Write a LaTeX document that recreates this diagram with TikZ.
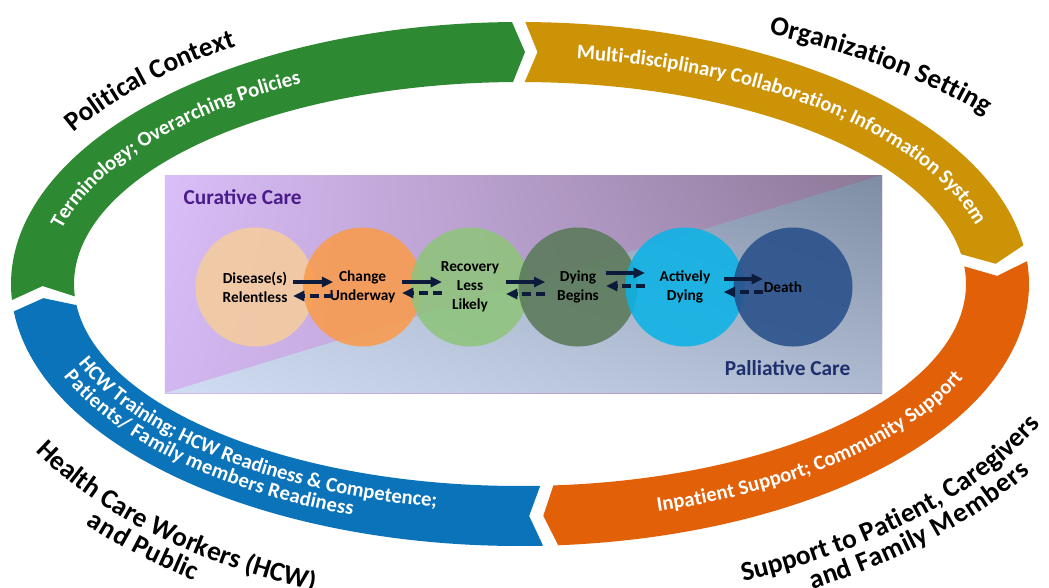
\documentclass[tikz,border=0pt]{standalone}
\usepackage{fontspec}
\setmainfont{Carlito}
\usetikzlibrary{arrows.meta,calc,decorations.text,shadings}

\definecolor{ringgreen}{HTML}{2E8A32}
\definecolor{ringgold}{HTML}{CC9306}
\definecolor{ringorange}{HTML}{E26008}
\definecolor{ringblue}{HTML}{0B73B9}
\definecolor{peach}{HTML}{F5CC9E}
\definecolor{changeorange}{HTML}{F99B4C}
\definecolor{lightgreen}{HTML}{8FC47C}
\definecolor{dullgreen}{HTML}{5B7A5A}
\definecolor{brightcyan}{HTML}{0CB3E6}
\definecolor{deathblue}{HTML}{28508A}
\definecolor{arrowblue}{HTML}{0C1A3C}
\definecolor{curpurple}{HTML}{4B1D8C}
\definecolor{palnavy}{HTML}{1E2F6E}
\definecolor{lavUL}{RGB}{218,190,248}
\definecolor{lavLL}{RGB}{210,182,240}
\definecolor{lavUR}{RGB}{140,120,150}
\definecolor{lavLR}{RGB}{160,140,176}
\definecolor{palUL}{RGB}{184,198,220}
\definecolor{palLL}{RGB}{207,220,241}
\definecolor{palUR}{RGB}{126,140,164}
\definecolor{palLR}{RGB}{174,187,208}

\newcommand\titlefont{\fontsize{20.5}{24}\selectfont\bfseries}
\newcommand\bandfont{\fontsize{15.5}{19}\selectfont\bfseries\color{white}}
\newcommand\stagefont{\fontsize{11.5}{14.2}\selectfont\bfseries}
\newcommand\boxfont{\fontsize{16}{19}\selectfont\bfseries}

% one chevron of the ring: colour, tail, notch, head, tip (angles)
\newcommand\ringpart[5]{%
  \fill[#1] (#2:509 and 262) arc[start angle=#2, end angle=#4, x radius=509, y radius=262]
    -- (#5:477.5 and 232) -- (#4:446 and 202)
    arc[start angle=#4, end angle=#2, x radius=446, y radius=202]
    -- (#3:477.5 and 232) -- cycle;}

\tikzset{
  stage/.style={circle, minimum size=89.25pt, inner sep=0pt, fill opacity=.88,
    text opacity=1, align=center, font=\stagefont},
  fwd/.style={-{Triangle[length=8.5pt,width=7.5pt]}, line width=2.5pt, draw=arrowblue},
  bwd/.style={fwd, dash pattern=on 7pt off 3.5pt},
  bandtext/.style={decorate, decoration={text along path, text align=center, raise=-4pt, text={|\bandfont|#1}}},
  titletext/.style={decorate, decoration={text along path, text align=center, text={|\titlefont|#1}}}
}

\begin{document}
\begin{tikzpicture}[x=0.75pt,y=0.75pt]
  \useasboundingbox (-520,-303) rectangle (529,284);
  \fill[white] (-520,-303) rectangle (529,284);

  % centre panel
  \shade[upper left=lavUL, lower left=lavLL, upper right=lavUR, lower right=lavLR]
    (-355,-109) rectangle (362,109);
  \shade[upper left=palUL, lower left=palLL, upper right=palUR, lower right=palLR]
    (-355,-109) -- (362,-109) -- (362,109) -- cycle;
  \node[anchor=base west, font=\boxfont, text=curpurple] (cur) at (-341,80) {Curative Care};
  \node[anchor=base east, font=\boxfont, text=palnavy] (pal) at (335,-91) {Palliative Care};

  \node[stage, fill=peach] (c1) at (-265,-3) {Disease(s)\\Relentless};
  \node[stage, fill=changeorange] (c2) at (-157.4,-3) {Change\\Underway};
  \node[stage, fill=lightgreen] (c3) at (-50,-3) {Recovery\\Less\\Likely};
  \node[stage, fill=dullgreen] (c4) at (58,-3) {Dying\\Begins};
  \node[stage, fill=brightcyan] (c5) at (165,-3) {Actively\\Dying};
  \node[stage, fill=deathblue] (c6) at (273,-3) {\hspace*{-15pt}Death};

  \draw[fwd, shorten <=28.5pt, shorten >=22pt] ($(c1.center)+(0,5)$) -- ($(c2.center)+(0,5)$);
  \draw[bwd, shorten <=22pt, shorten >=28.5pt] ($(c2.center)+(0,-9)$) -- ($(c1.center)+(0,-9)$);
  \draw[fwd, shorten <=29.5pt, shorten >=21pt] ($(c2.center)+(0,5)$) -- ($(c3.center)+(0,5)$);
  \draw[bwd, shorten <=21pt, shorten >=29.5pt] ($(c3.center)+(0,-6)$) -- ($(c2.center)+(0,-6)$);
  \draw[fwd, shorten <=27pt, shorten >=24.5pt] ($(c3.center)+(0,5)$) -- ($(c4.center)+(0,5)$);
  \draw[bwd, shorten <=24.5pt, shorten >=27pt] ($(c4.center)+(0,-7)$) -- ($(c3.center)+(0,-7)$);
  \draw[fwd, shorten <=21pt, shorten >=30pt] ($(c4.center)+(0,14)$) -- ($(c5.center)+(0,14)$);
  \draw[bwd, shorten <=30pt, shorten >=21pt] ($(c5.center)+(0,1)$) -- ($(c4.center)+(0,1)$);
  \draw[fwd, shorten <=29pt, shorten >=22.5pt] ($(c5.center)+(0,8)$) -- ($(c6.center)+(0,8)$);
  \draw[bwd, shorten <=22.5pt, shorten >=29pt] ($(c6.center)+(0,-5)$) -- ($(c5.center)+(0,-5)$);

  % ring
  \ringpart{ringgreen}{183.5}{180.5}{90.9}{89.4}
  \ringpart{ringgold}{89.4}{87.9}{8.5}{5}
  \ringpart{ringorange}{5}{2}{-85.7}{-87.2}
  \ringpart{ringblue}{-87.4}{-88.9}{-174}{-176.5}

  \path[bandtext={Terminology; Overarching Policies}]
    (172:477.5 and 232) arc[start angle=172, end angle=114, x radius=477.5, y radius=232];
  \path[bandtext={Multi-disciplinary Collaboration; Information System}]
    (86:477.5 and 232) arc[start angle=86, end angle=10, x radius=477.5, y radius=232];
  \path[bandtext={Inpatient Support; Community Support}]
    (284:477.5 and 232) arc[start angle=284, end angle=341.5, x radius=477.5, y radius=232];
  \path[decorate, decoration={text along path, raise=4pt,
      text={|\bandfont|HCW Training; HCW Readiness {\&} Competence;}}]
    (201:477.5 and 232) arc[start angle=201, end angle=275, x radius=477.5, y radius=232];
  \path[decorate, decoration={text along path, raise=-10.5pt,
      text={|\bandfont|Patients/ Family members Readiness}}]
    (201:477.5 and 232) arc[start angle=201, end angle=275, x radius=477.5, y radius=232];

  % titles
  \path[titletext={Political Context}]
    (151.5:529 and 282) arc[start angle=151.5, end angle=119.5, x radius=529, y radius=282];
  \path[titletext={Organization Setting}]
    (67:588 and 276) arc[start angle=67, end angle=35, x radius=588, y radius=276];
  \path[titletext={Support to Patient, Caregivers}]
    (290:579 and 322) arc[start angle=290, end angle=338, x radius=579, y radius=322];
  \path[titletext={and Family Members}, decoration={raise=-19.5pt}]
    (291.5:579 and 322) arc[start angle=291.5, end angle=339.5, x radius=579, y radius=322];
  \path[titletext={Health Care Workers (HCW)}]
    (207:562 and 330) arc[start angle=207, end angle=251, x radius=562, y radius=330];
  \path[titletext={and Public}, decoration={raise=-19pt}]
    (205:562 and 330) arc[start angle=205, end angle=249, x radius=562, y radius=330];
\end{tikzpicture}
\end{document}
